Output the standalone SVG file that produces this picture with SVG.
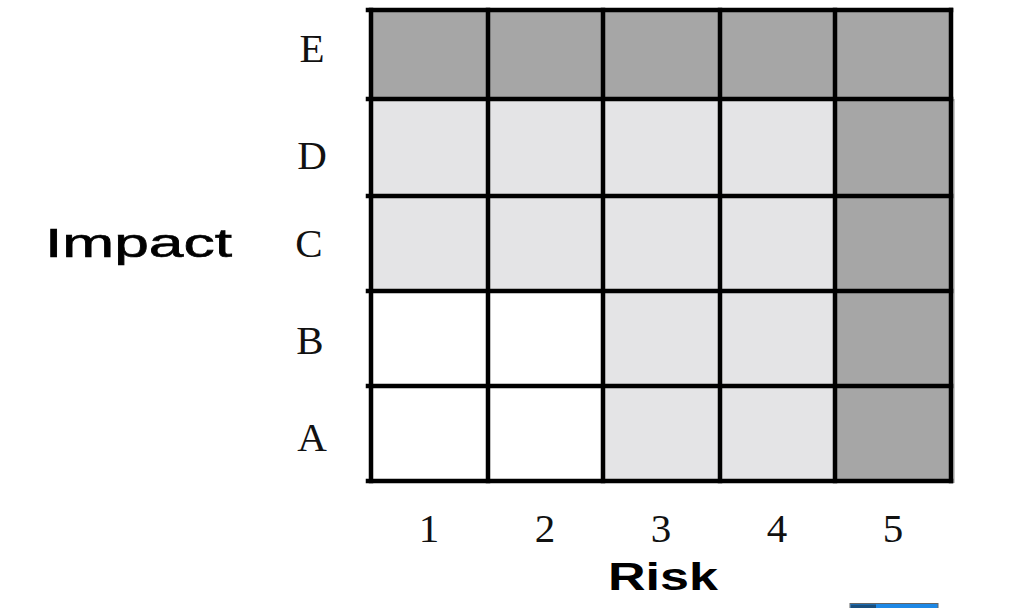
<svg xmlns="http://www.w3.org/2000/svg" width="1024" height="608" viewBox="0 0 1024 608">
  <style>
    .dk { fill: #a6a6a6; }
    .lt { fill: #e4e4e6; }
    .wh { fill: #ffffff; }
    .ln { stroke: #000; stroke-width: 4.5; fill: none; stroke-linecap: square; }
    .lbl { font-family: "Liberation Serif", "Times New Roman", serif; font-size: 41px; fill: #111; text-anchor: middle; }
    .ax { font-family: "Liberation Sans", Arial, sans-serif; fill: #000; }
  </style>
  <rect width="1024" height="608" fill="#ffffff"/>
  <g id="cells">
    <g id="row-E">
      <rect class="dk" x="371" y="10" width="117" height="89"/>
      <rect class="dk" x="488" y="10" width="115" height="89"/>
      <rect class="dk" x="603" y="10" width="117" height="89"/>
      <rect class="dk" x="720" y="10" width="115" height="89"/>
      <rect class="dk" x="835" y="10" width="116" height="89"/>
    </g>
    <g id="row-D">
      <rect class="lt" x="371" y="99" width="117" height="97"/>
      <rect class="lt" x="488" y="99" width="115" height="97"/>
      <rect class="lt" x="603" y="99" width="117" height="97"/>
      <rect class="lt" x="720" y="99" width="115" height="97"/>
      <rect class="dk" x="835" y="99" width="116" height="97"/>
    </g>
    <g id="row-C">
      <rect class="lt" x="371" y="196" width="117" height="95"/>
      <rect class="lt" x="488" y="196" width="115" height="95"/>
      <rect class="lt" x="603" y="196" width="117" height="95"/>
      <rect class="lt" x="720" y="196" width="115" height="95"/>
      <rect class="dk" x="835" y="196" width="116" height="95"/>
    </g>
    <g id="row-B">
      <rect class="wh" x="371" y="291" width="117" height="95"/>
      <rect class="wh" x="488" y="291" width="115" height="95"/>
      <rect class="lt" x="603" y="291" width="117" height="95"/>
      <rect class="lt" x="720" y="291" width="115" height="95"/>
      <rect class="dk" x="835" y="291" width="116" height="95"/>
    </g>
    <g id="row-A">
      <rect class="wh" x="371" y="386" width="117" height="95"/>
      <rect class="wh" x="488" y="386" width="115" height="95"/>
      <rect class="lt" x="603" y="386" width="117" height="95"/>
      <rect class="lt" x="720" y="386" width="115" height="95"/>
      <rect class="dk" x="835" y="386" width="116" height="95"/>
    </g>
    <rect x="952" y="99" width="3" height="384" fill="#c8c8c8"/>
  </g>
  <g id="gridlines" class="ln">
    <line x1="368" y1="10" x2="951" y2="10"/>
    <line x1="368" y1="99" x2="951" y2="99"/>
    <line x1="368" y1="196" x2="951" y2="196"/>
    <line x1="368" y1="291" x2="951" y2="291"/>
    <line x1="368" y1="386" x2="951" y2="386"/>
    <line x1="368" y1="481" x2="951" y2="481"/>
    <line x1="371" y1="10" x2="371" y2="481"/>
    <line x1="488" y1="10" x2="488" y2="481"/>
    <line x1="603" y1="10" x2="603" y2="481"/>
    <line x1="720" y1="10" x2="720" y2="481"/>
    <line x1="835" y1="10" x2="835" y2="481"/>
    <line x1="951" y1="10" x2="951" y2="481"/>
  </g>
  <g id="row-labels">
    <text class="lbl" x="312" y="62">E</text>
    <text class="lbl" x="312" y="169">D</text>
    <text class="lbl" x="309" y="257">C</text>
    <text class="lbl" x="310" y="354">B</text>
    <text class="lbl" x="312" y="451">A</text>
  </g>
  <g id="col-labels">
    <text class="lbl" x="429" y="542">1</text>
    <text class="lbl" x="545" y="542">2</text>
    <text class="lbl" x="661" y="542">3</text>
    <text class="lbl" x="777" y="542">4</text>
    <text class="lbl" x="893" y="542">5</text>
  </g>
  <g id="axis-labels">
    <text class="ax" x="45" y="257" font-size="40" stroke="#000" stroke-width="0.6" textLength="187" lengthAdjust="spacingAndGlyphs">Impact</text>
    <text class="ax" x="608" y="590" font-size="38" font-weight="bold" textLength="110" lengthAdjust="spacingAndGlyphs">Risk</text>
  </g>
  <g id="corner-widget">
    <rect x="850" y="603.5" width="88" height="6" fill="#1e88e5" stroke="#666" stroke-width="1"/>
    <rect x="851" y="604.5" width="25" height="5" fill="#1a4e7c"/>
  </g>
</svg>
